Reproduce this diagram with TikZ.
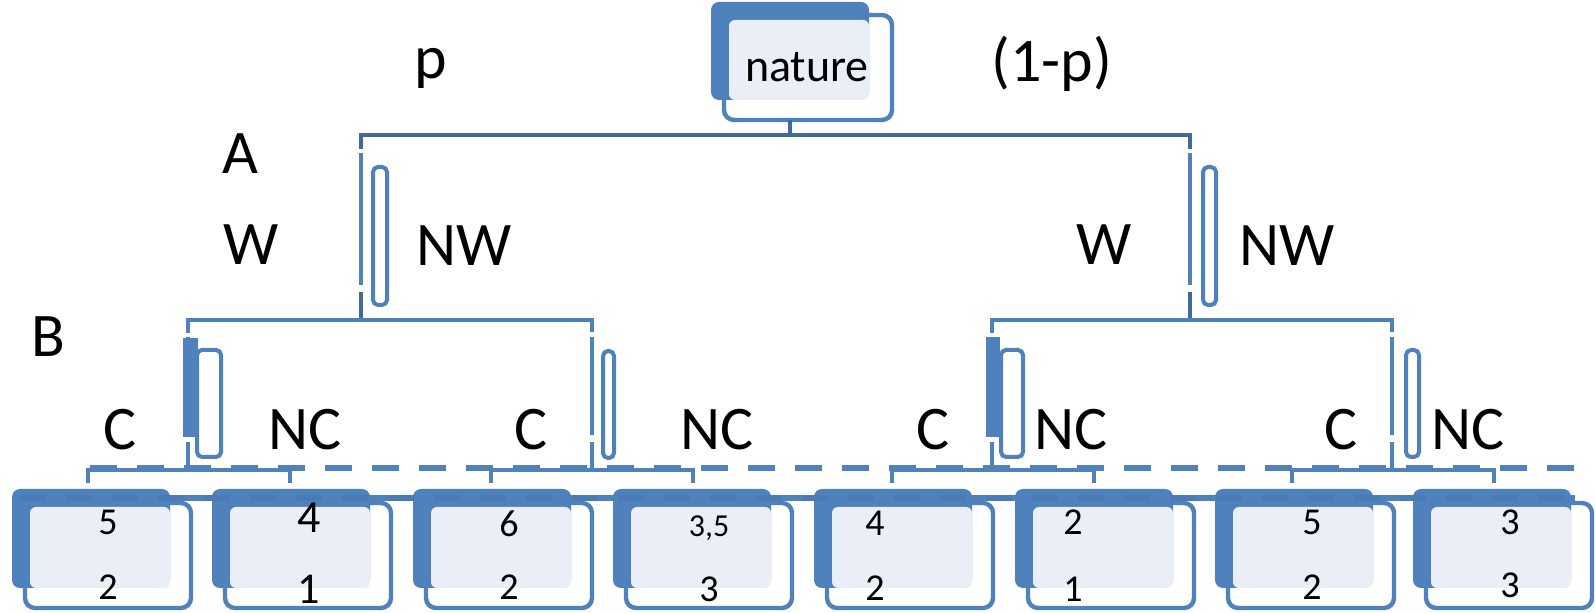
\documentclass[tikz,border=0pt]{standalone}
\usepackage{fontspec}
\setmainfont{Carlito}
\definecolor{acc}{HTML}{4F81BD}
\definecolor{accd}{HTML}{41699E}
\definecolor{lite}{HTML}{EAEFF7}
\begin{document}
\begin{tikzpicture}[x=0.5pt,y=-0.5pt,
  backbox/.style={fill=acc, rounded corners=4pt},
  frontbox/.style={draw=acc, line width=2.2pt, rounded corners=5pt},
  litefill/.style={fill=lite, rounded corners=3pt},
  conn/.style={draw=acc, line width=2.2pt},
  topconn/.style={draw=accd, line width=2.2pt},
  slim/.style={draw=acc, line width=2pt, rounded corners=2.5pt, fill=white},
  bar/.style={fill=acc},
  lab/.style={font=\fontsize{31}{31}\selectfont, inner sep=0pt, anchor=base},
  num/.style={font=\fontsize{19}{19}\selectfont, inner sep=0pt, anchor=base}]
\useasboundingbox (0,0) rectangle (1595,613);

% ---------- nature box ----------
\fill[backbox] (711,2) rectangle (869,100);
\fill[litefill] (729,20) rectangle (869,100);
\draw[frontbox] (724,15) rectangle (892,120);
\node[inner sep=0pt, anchor=base, font=\fontsize{23}{23}\selectfont] (nature) at (807,82) {nature};

% ---------- level A connectors ----------
\coordinate (natB) at (790,120);
\coordinate (natT) at (790,135);
\coordinate (aL) at (361,135);
\coordinate (aR) at (1190,135);
\draw[topconn] (natB) -- (natT);
\draw[topconn, line cap=butt] (361,149) -- (aL) -- (aR) -- (1190,149);
\foreach \x in {361,1190}{
  \draw[conn] (\x,153) -- (\x,285);
  \draw[topconn] (\x,292) -- (\x,321);
}
\draw[slim] (373,167) rectangle (387,305);
\draw[slim] (1203,167) rectangle (1216,305);

% ---------- level B connectors ----------
\draw[conn] (188,333) -- (188,320) -- (592,320) -- (592,332);
\draw[conn] (992,333) -- (992,320) -- (1392,320) -- (1392,332);
\foreach \x in {188,592,992,1392}{
  \draw[conn] (\x,337) -- (\x,435);
  \draw[conn] (\x,442) -- (\x,470);
}
\fill[bar] (183,338) rectangle (198,437);
\fill[bar] (986,337) rectangle (1000,437);
\draw[slim] (197,350) rectangle (221,457);
\draw[slim] (603,351) rectangle (614,458);
\draw[slim] (1001,350) rectangle (1023,457);
\draw[slim] (1406,350) rectangle (1419,457);

% ---------- leaf brackets ----------
\draw[conn, line width=2.6pt, dash pattern=on 13.5pt off 10pt] (90,468) -- (1583,468);
\foreach \c in {189,592,993,1393}{
  \draw[conn] (\c-101,483) -- (\c-101,470) -- (\c+101,470) -- (\c+101,483);
}

% ---------- leaf boxes ----------
\draw[acc, line width=3.3pt] (20,498) -- (1575,498);
\foreach \x in {12,212,413,613,814,1015,1215,1413}{
  \fill[backbox] (\x,489) rectangle (\x+158,588);
}
\draw[accd!25!acc, line width=3.3pt, dash pattern=on 13pt off 10pt] (20,498) -- (1575,498);
\foreach \x in {12,212,413,613,814,1015,1215,1413}{
  \fill[litefill] (\x+18,507) rectangle (\x+158,588);
  \draw[frontbox] (\x+13,503) rectangle (\x+179,608);
}

% ---------- leaf payoffs ----------
\node[num] (l1a) at (108,535) {5};
\node[num] (l1b) at (108,600) {2};
\node[num, font=\fontsize{23}{23}\selectfont] (l2a) at (309,533) {4};
\node[num, font=\fontsize{22}{22}\selectfont] (l2b) at (309,604) {1};
\node[num] (l3a) at (509,537) {6};
\node[num] (l3b) at (509,600) {2};
\node[num, font=\fontsize{16}{16}\selectfont] (l4a) at (709,537) {3,5};
\node[num] (l4b) at (709,602) {3};
\node[num] (l5a) at (875,536) {4};
\node[num] (l5b) at (875,601) {2};
\node[num] (l6a) at (1073,535) {2};
\node[num] (l6b) at (1073,602) {1};
\node[num] (l7a) at (1312,535) {5};
\node[num] (l7b) at (1312,600) {2};
\node[num] (l8a) at (1510,535) {3};
\node[num] (l8b) at (1510,598) {3};

% ---------- labels ----------
\node[lab] (p) at (431,79) {p};
\node[lab] (q) at (1052,82) {(1-p)};
\node[lab] (A) at (240,174) {A};
\node[lab] (W1) at (251,265) {W};
\node[lab] (NW1) at (464,266) {NW};
\node[lab] (W2) at (1104,265) {W};
\node[lab] (NW2) at (1287,266) {NW};
\node[lab] (B) at (48,357) {B};
\node[lab] (C1) at (120,450) {C};
\node[lab] (NC1) at (305,450) {NC};
\node[lab] (C2) at (531,450) {C};
\node[lab] (NC2) at (717,450) {NC};
\node[lab] (C3) at (933,450) {C};
\node[lab] (NC3) at (1071,450) {NC};
\node[lab] (C4) at (1341,450) {C};
\node[lab] (NC4) at (1468,450) {NC};
\end{tikzpicture}
\end{document}
